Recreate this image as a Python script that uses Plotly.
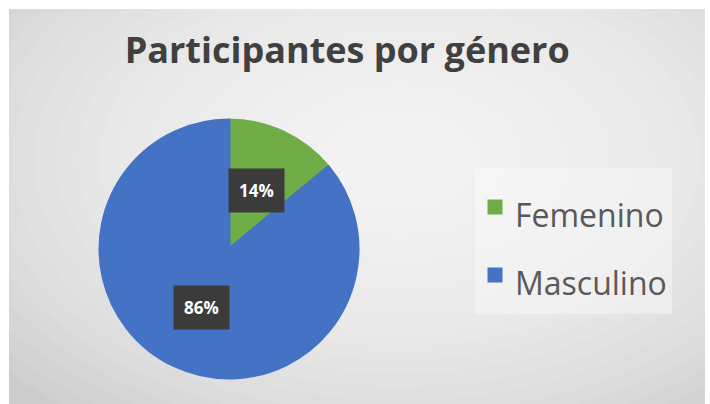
import math
import plotly.graph_objects as go

# datos del gráfico
generos = ['Femenino', 'Masculino']
porcentajes = [14, 86]
colores = ['#70AD47', '#4472C4']

W, H = 710, 404
dom_x = [100 / W, 358 / W]
dom_y = [1 - 378 / H, 1 - 120 / H]

fig = go.Figure()
fig.add_trace(go.Pie(
    labels=[f"<span style='font-size:32px'>{g}</span>" for g in generos],
    values=porcentajes,
    sort=False,
    direction='clockwise',
    rotation=0,
    textinfo='none',
    hoverinfo='percent',
    marker=dict(colors=colores, line=dict(color=colores, width=3)),
    domain=dict(x=dom_x, y=dom_y),
))

# etiquetas de datos en cajas oscuras, a mitad del radio de cada porcion
cx = (dom_x[0] + dom_x[1]) / 2 * W
cy = (1 - (dom_y[0] + dom_y[1]) / 2) * H
r = (dom_x[1] - dom_x[0]) * W / 2
total = sum(porcentajes)
acum = 0
for v in porcentajes:
    mid = (acum + v / 2) / total * 2 * math.pi
    acum += v
    px_ = cx + 0.5 * r * math.sin(mid)
    py_ = cy - 0.5 * r * math.cos(mid)
    fig.add_annotation(
        x=px_ / W, y=1 - py_ / H, xref='paper', yref='paper',
        xanchor='center', yanchor='middle',
        text=f"<b>{round(v / total * 100)}%</b>", showarrow=False,
        font=dict(family='Open Sans', size=17, color='white'),
        bgcolor='#3b3b3b', borderpad=10,
    )

# fondo gris con degradado radial aproximado
gx0, gx1, gy0, gy1 = 9, 705, 9, 404
shapes = [dict(type='rect', xref='paper', yref='paper', x0=gx0 / W, x1=gx1 / W,
               y0=1 - gy1 / H, y1=1 - gy0 / H, fillcolor='#cccccc',
               line=dict(width=0), layer='below')]
gx, gy = 400, 160
for i in range(22):
    rr = 520 - i * 22
    ry = rr * 0.62
    shapes.append(dict(type='circle', xref='paper', yref='paper',
                       x0=(gx - rr) / W, x1=(gx + rr) / W,
                       y0=1 - (gy + ry) / H, y1=1 - (gy - ry) / H,
                       fillcolor='rgba(255,255,255,0.08)', line=dict(width=0),
                       layer='below'))
# recortar el degradado al borde blanco
shapes += [
    dict(type='rect', xref='paper', yref='paper', x0=0, x1=gx0 / W, y0=0, y1=1, fillcolor='white', line=dict(width=0), layer='below'),
    dict(type='rect', xref='paper', yref='paper', x0=gx1 / W, x1=1, y0=0, y1=1, fillcolor='white', line=dict(width=0), layer='below'),
    dict(type='rect', xref='paper', yref='paper', x0=0, x1=1, y0=1 - gy0 / H, y1=1, fillcolor='white', line=dict(width=0), layer='below'),
]

fig.update_layout(
    width=W, height=H,
    margin=dict(l=0, r=0, t=0, b=0),
    paper_bgcolor='white',
    plot_bgcolor='rgba(0,0,0,0)',
    shapes=shapes,
    title=dict(text='<b>Participantes por género</b>', x=0.489, xanchor='center',
               y=1 - 50 / H, yanchor='middle',
               font=dict(family='Open Sans', size=36, color='#404040')),
    legend=dict(x=475 / W, xanchor='left', y=1 - 168 / H, yanchor='top',
                bgcolor='rgba(255,255,255,0.35)', borderwidth=0,
                font=dict(family='Open Sans', size=50, color='#595959'),
                entrywidth=180),
)

fig.write_html("out.html", config={'displayModeBar': False},
               post_script="document.body.style.margin='0';")
